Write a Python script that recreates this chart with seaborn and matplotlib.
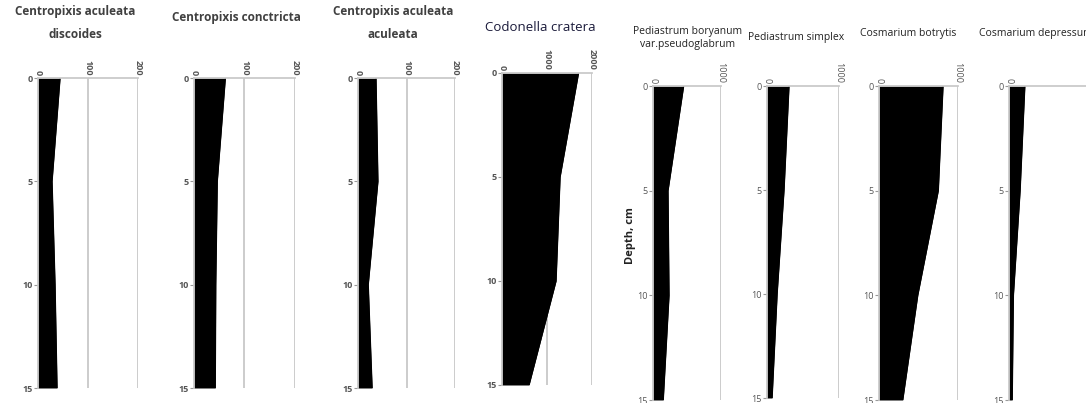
import numpy as np
import pandas as pd
import matplotlib
matplotlib.use("Agg")
import matplotlib.pyplot as plt
import seaborn as sns

# Profundidades amostradas (cm)
depth = [0, 5, 10, 15]

# Abundâncias
c_aculeata_discoides = [44, 28, 34, 38]
c_conctricta = [62, 46, 43, 42]
c_aculeata_aculeata = [37, 41, 21, 29]
codonella_cratera = [1700, 1290, 1200, 600]
p_boryanum = [450, 220, 235, 150]
p_simplex = [305, 236, 140, 70]
c_botrytis = [810, 750, 490, 300]
c_depressum = [200, 140, 55, 40]

titles = ["Centropixis aculeata\ndiscoides", "Centropixis conctricta",
          "Centropixis aculeata\naculeata", "Codonella cratera",
          "Pediastrum boryanum\nvar.pseudoglabrum", "Pediastrum simplex",
          "Cosmarium botrytis", "Cosmarium depressum"]
series = [c_aculeata_discoides, c_conctricta, c_aculeata_aculeata, codonella_cratera,
          p_boryanum, p_simplex, c_botrytis, c_depressum]
xticks = [[0, 100, 200], [0, 100, 200], [0, 100, 200], [0, 1000, 2000],
          [0, 1000], [0, 1000], [0, 1000], [0, 1000]]

sns.set_theme(style="white")
plt.rcParams['font.family'] = ['Open Sans', 'DejaVu Sans']

W, H = 1086, 403
fig = plt.figure(figsize=(W / 100, H / 100), dpi=100)
fig.patch.set_facecolor("white")

# posição de cada painel em pixels: x0, largura, y do 0, y do 15
layout = [(38, 100, 78, 388), (194, 101, 78, 388), (358, 97, 78, 388),
          (502, 90, 73, 385), (653, 68, 86, 400), (767, 72, 86, 398),
          (879, 79, 86, 400), (1009, 79, 86, 400)]
# posição dos títulos (centro x, y do topo)
title_pos = [(75, 5), (236, 11), (393, 5), (540, 21),
             (688, 26), (796, 32), (908, 28), (1036, 28)]

for i, (vals, ttl, ticks, (x0, w, yt, yb)) in enumerate(zip(series, titles, xticks, layout)):
    ax = fig.add_axes([x0 / W, 1 - yb / H, w / W, (yb - yt) / H])
    df = pd.DataFrame({"valor": vals, "prof": depth})
    ax.fill_betweenx(df["prof"], 0, df["valor"], color="black", lw=0)
    sns.lineplot(data=df, x="valor", y="prof", orient="y", sort=False,
                 color="black", lw=1, ax=ax)
    ax.set_ylim(15, 0)
    ax.set_xlim(0, ticks[-1])
    ax.xaxis.tick_top()
    ax.set_xticks(ticks)
    ax.set_yticks([0, 5, 10, 15])
    left = i < 4
    ax.set_xticklabels([str(t) for t in ticks], rotation=-90, fontsize=6.5,
                       color="#555555", fontweight="bold" if left else "normal")
    ax.set_yticklabels(["0", "5", "10", "15"], fontsize=6.5, color="#555555",
                       fontweight="bold" if left else "normal")
    ax.tick_params(axis="y", length=3, width=0.8, color="#999999", pad=1, left=True)
    ax.tick_params(axis="x", length=0, pad=2, top=True)
    ax.grid(axis="x", color="#c8c8c8", lw=1.3)
    ax.grid(axis="y", visible=False)
    for s in ["right", "bottom"]:
        ax.spines[s].set_visible(False)
    ax.spines["top"].set_color("#c8c8c8")
    ax.spines["left"].set_color("#c8c8c8")
    ax.set_xlabel("")
    ax.set_ylabel("")
    ax.set_facecolor("none")
    ax.set_axisbelow(True)

    cx, ty = title_pos[i]
    if i < 3:
        fig.text(cx / W, 1 - ty / H, ttl, ha="center", va="top", fontsize=8.5,
                 fontweight="bold", color="#404040", linespacing=1.95)
    elif i == 3:
        fig.text(cx / W, 1 - ty / H, ttl, ha="center", va="top", fontsize=9.5,
                 color="#1a1a3a")
    else:
        fig.text(cx / W, 1 - ty / H, ttl, ha="center", va="top", fontsize=7.5,
                 color="#222222", linespacing=1.3)

fig.text(631 / W, 1 - 236 / H, "Depth, cm", rotation=90, ha="center", va="center",
         fontsize=8, fontweight="bold", color="#222222")

fig.savefig("out.png", dpi=100, facecolor="white")
